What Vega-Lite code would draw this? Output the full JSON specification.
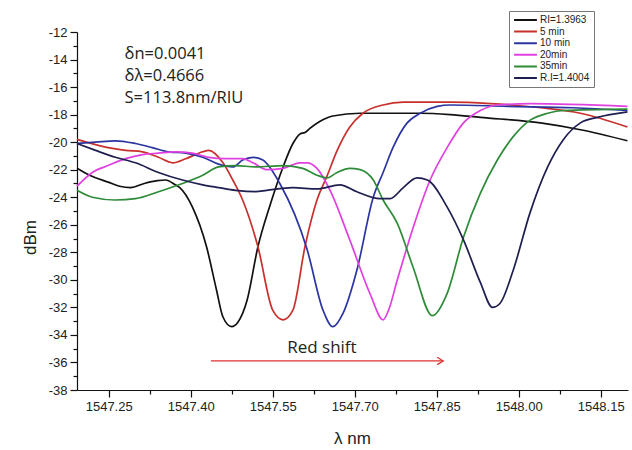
{
  "$schema": "https://vega.github.io/schema/vega-lite/v6.json",
  "width": 551,
  "height": 358,
  "autosize": {"type": "none"},
  "padding": {"left": 77, "top": 32, "right": 4, "bottom": 60},
  "background": "white",
  "config": {"view": {"stroke": null}, "font": "Liberation Sans"},
  "datasets": {
    "spectra": [
      {"series": "RI=1.3963", "wl": 1547.192, "dbm": -21.9},
      {"series": "RI=1.3963", "wl": 1547.215, "dbm": -22.4},
      {"series": "RI=1.3963", "wl": 1547.249, "dbm": -22.9},
      {"series": "RI=1.3963", "wl": 1547.270, "dbm": -23.2},
      {"series": "RI=1.3963", "wl": 1547.290, "dbm": -23.3},
      {"series": "RI=1.3963", "wl": 1547.315, "dbm": -23.0},
      {"series": "RI=1.3963", "wl": 1547.339, "dbm": -22.8},
      {"series": "RI=1.3963", "wl": 1547.354, "dbm": -22.75},
      {"series": "RI=1.3963", "wl": 1547.372, "dbm": -23.1},
      {"series": "RI=1.3963", "wl": 1547.380, "dbm": -23.3},
      {"series": "RI=1.3963", "wl": 1547.403, "dbm": -24.7},
      {"series": "RI=1.3963", "wl": 1547.429, "dbm": -27.6},
      {"series": "RI=1.3963", "wl": 1547.447, "dbm": -30.7},
      {"series": "RI=1.3963", "wl": 1547.459, "dbm": -32.7},
      {"series": "RI=1.3963", "wl": 1547.475, "dbm": -33.4},
      {"series": "RI=1.3963", "wl": 1547.486, "dbm": -33.1},
      {"series": "RI=1.3963", "wl": 1547.503, "dbm": -31.5},
      {"series": "RI=1.3963", "wl": 1547.523, "dbm": -27.6},
      {"series": "RI=1.3963", "wl": 1547.545, "dbm": -24.6},
      {"series": "RI=1.3963", "wl": 1547.569, "dbm": -21.8},
      {"series": "RI=1.3963", "wl": 1547.587, "dbm": -20.1},
      {"series": "RI=1.3963", "wl": 1547.600, "dbm": -19.4},
      {"series": "RI=1.3963", "wl": 1547.609, "dbm": -19.3},
      {"series": "RI=1.3963", "wl": 1547.618, "dbm": -19.0},
      {"series": "RI=1.3963", "wl": 1547.636, "dbm": -18.5},
      {"series": "RI=1.3963", "wl": 1547.660, "dbm": -18.1},
      {"series": "RI=1.3963", "wl": 1547.710, "dbm": -17.9},
      {"series": "RI=1.3963", "wl": 1547.820, "dbm": -17.9},
      {"series": "RI=1.3963", "wl": 1547.875, "dbm": -18.0},
      {"series": "RI=1.3963", "wl": 1547.930, "dbm": -18.2},
      {"series": "RI=1.3963", "wl": 1548.040, "dbm": -18.6},
      {"series": "RI=1.3963", "wl": 1548.113, "dbm": -19.1},
      {"series": "RI=1.3963", "wl": 1548.199, "dbm": -19.9},

      {"series": "5 min", "wl": 1547.192, "dbm": -19.8},
      {"series": "5 min", "wl": 1547.249, "dbm": -20.4},
      {"series": "5 min", "wl": 1547.281, "dbm": -20.6},
      {"series": "5 min", "wl": 1547.312, "dbm": -20.7},
      {"series": "5 min", "wl": 1547.341, "dbm": -21.1},
      {"series": "5 min", "wl": 1547.367, "dbm": -21.5},
      {"series": "5 min", "wl": 1547.391, "dbm": -21.2},
      {"series": "5 min", "wl": 1547.422, "dbm": -20.7},
      {"series": "5 min", "wl": 1547.433, "dbm": -20.6},
      {"series": "5 min", "wl": 1547.459, "dbm": -21.5},
      {"series": "5 min", "wl": 1547.477, "dbm": -22.75},
      {"series": "5 min", "wl": 1547.495, "dbm": -24.2},
      {"series": "5 min", "wl": 1547.523, "dbm": -27.6},
      {"series": "5 min", "wl": 1547.550, "dbm": -32.2},
      {"series": "5 min", "wl": 1547.569, "dbm": -32.9},
      {"series": "5 min", "wl": 1547.587, "dbm": -32.2},
      {"series": "5 min", "wl": 1547.609, "dbm": -27.6},
      {"series": "5 min", "wl": 1547.631, "dbm": -24.2},
      {"series": "5 min", "wl": 1547.649, "dbm": -22.5},
      {"series": "5 min", "wl": 1547.668, "dbm": -20.6},
      {"series": "5 min", "wl": 1547.691, "dbm": -18.9},
      {"series": "5 min", "wl": 1547.715, "dbm": -17.9},
      {"series": "5 min", "wl": 1547.752, "dbm": -17.3},
      {"series": "5 min", "wl": 1547.789, "dbm": -17.1},
      {"series": "5 min", "wl": 1547.875, "dbm": -17.1},
      {"series": "5 min", "wl": 1547.948, "dbm": -17.2},
      {"series": "5 min", "wl": 1548.040, "dbm": -17.5},
      {"series": "5 min", "wl": 1548.113, "dbm": -17.9},
      {"series": "5 min", "wl": 1548.199, "dbm": -18.9},

      {"series": "10 min", "wl": 1547.192, "dbm": -20.1},
      {"series": "10 min", "wl": 1547.226, "dbm": -20.0},
      {"series": "10 min", "wl": 1547.262, "dbm": -19.9},
      {"series": "10 min", "wl": 1547.299, "dbm": -20.1},
      {"series": "10 min", "wl": 1547.330, "dbm": -20.4},
      {"series": "10 min", "wl": 1547.359, "dbm": -20.7},
      {"series": "10 min", "wl": 1547.391, "dbm": -20.8},
      {"series": "10 min", "wl": 1547.422, "dbm": -21.1},
      {"series": "10 min", "wl": 1547.451, "dbm": -21.6},
      {"series": "10 min", "wl": 1547.477, "dbm": -21.8},
      {"series": "10 min", "wl": 1547.495, "dbm": -21.3},
      {"series": "10 min", "wl": 1547.514, "dbm": -21.1},
      {"series": "10 min", "wl": 1547.532, "dbm": -21.3},
      {"series": "10 min", "wl": 1547.563, "dbm": -23.0},
      {"series": "10 min", "wl": 1547.613, "dbm": -27.8},
      {"series": "10 min", "wl": 1547.642, "dbm": -32.2},
      {"series": "10 min", "wl": 1547.660, "dbm": -33.4},
      {"series": "10 min", "wl": 1547.679, "dbm": -32.4},
      {"series": "10 min", "wl": 1547.704, "dbm": -29.3},
      {"series": "10 min", "wl": 1547.734, "dbm": -24.0},
      {"series": "10 min", "wl": 1547.752, "dbm": -22.2},
      {"series": "10 min", "wl": 1547.770, "dbm": -20.4},
      {"series": "10 min", "wl": 1547.796, "dbm": -18.6},
      {"series": "10 min", "wl": 1547.820, "dbm": -17.9},
      {"series": "10 min", "wl": 1547.851, "dbm": -17.4},
      {"series": "10 min", "wl": 1547.875, "dbm": -17.3},
      {"series": "10 min", "wl": 1547.979, "dbm": -17.4},
      {"series": "10 min", "wl": 1548.100, "dbm": -17.5},
      {"series": "10 min", "wl": 1548.199, "dbm": -17.7},

      {"series": "20min", "wl": 1547.192, "dbm": -23.2},
      {"series": "20min", "wl": 1547.220, "dbm": -22.2},
      {"series": "20min", "wl": 1547.249, "dbm": -21.7},
      {"series": "20min", "wl": 1547.281, "dbm": -21.2},
      {"series": "20min", "wl": 1547.312, "dbm": -20.9},
      {"series": "20min", "wl": 1547.341, "dbm": -20.8},
      {"series": "20min", "wl": 1547.372, "dbm": -20.7},
      {"series": "20min", "wl": 1547.403, "dbm": -20.8},
      {"series": "20min", "wl": 1547.433, "dbm": -21.1},
      {"series": "20min", "wl": 1547.464, "dbm": -21.2},
      {"series": "20min", "wl": 1547.495, "dbm": -21.2},
      {"series": "20min", "wl": 1547.514, "dbm": -21.5},
      {"series": "20min", "wl": 1547.539, "dbm": -22.0},
      {"series": "20min", "wl": 1547.569, "dbm": -21.9},
      {"series": "20min", "wl": 1547.600, "dbm": -21.5},
      {"series": "20min", "wl": 1547.613, "dbm": -21.5},
      {"series": "20min", "wl": 1547.631, "dbm": -21.9},
      {"series": "20min", "wl": 1547.655, "dbm": -23.5},
      {"series": "20min", "wl": 1547.691, "dbm": -27.1},
      {"series": "20min", "wl": 1547.728, "dbm": -31.0},
      {"series": "20min", "wl": 1547.752, "dbm": -32.9},
      {"series": "20min", "wl": 1547.762, "dbm": -32.2},
      {"series": "20min", "wl": 1547.778, "dbm": -30.0},
      {"series": "20min", "wl": 1547.807, "dbm": -26.2},
      {"series": "20min", "wl": 1547.838, "dbm": -22.75},
      {"series": "20min", "wl": 1547.869, "dbm": -20.4},
      {"series": "20min", "wl": 1547.899, "dbm": -18.6},
      {"series": "20min", "wl": 1547.930, "dbm": -17.7},
      {"series": "20min", "wl": 1547.961, "dbm": -17.3},
      {"series": "20min", "wl": 1548.021, "dbm": -17.2},
      {"series": "20min", "wl": 1548.199, "dbm": -17.4},

      {"series": "35min", "wl": 1547.192, "dbm": -23.5},
      {"series": "35min", "wl": 1547.220, "dbm": -24.0},
      {"series": "35min", "wl": 1547.262, "dbm": -24.2},
      {"series": "35min", "wl": 1547.299, "dbm": -24.1},
      {"series": "35min", "wl": 1547.341, "dbm": -23.6},
      {"series": "35min", "wl": 1547.385, "dbm": -23.0},
      {"series": "35min", "wl": 1547.422, "dbm": -22.4},
      {"series": "35min", "wl": 1547.451, "dbm": -21.8},
      {"series": "35min", "wl": 1547.482, "dbm": -21.7},
      {"series": "35min", "wl": 1547.519, "dbm": -21.8},
      {"series": "35min", "wl": 1547.569, "dbm": -21.7},
      {"series": "35min", "wl": 1547.605, "dbm": -21.9},
      {"series": "35min", "wl": 1547.631, "dbm": -22.4},
      {"series": "35min", "wl": 1547.649, "dbm": -22.6},
      {"series": "35min", "wl": 1547.668, "dbm": -22.2},
      {"series": "35min", "wl": 1547.691, "dbm": -21.9},
      {"series": "35min", "wl": 1547.710, "dbm": -22.0},
      {"series": "35min", "wl": 1547.734, "dbm": -22.75},
      {"series": "35min", "wl": 1547.752, "dbm": -24.2},
      {"series": "35min", "wl": 1547.778, "dbm": -25.9},
      {"series": "35min", "wl": 1547.807, "dbm": -29.1},
      {"series": "35min", "wl": 1547.842, "dbm": -32.6},
      {"series": "35min", "wl": 1547.869, "dbm": -31.0},
      {"series": "35min", "wl": 1547.899, "dbm": -26.9},
      {"series": "35min", "wl": 1547.930, "dbm": -23.7},
      {"series": "35min", "wl": 1547.961, "dbm": -21.3},
      {"series": "35min", "wl": 1547.990, "dbm": -19.6},
      {"series": "35min", "wl": 1548.021, "dbm": -18.4},
      {"series": "35min", "wl": 1548.053, "dbm": -17.9},
      {"series": "35min", "wl": 1548.082, "dbm": -17.7},
      {"series": "35min", "wl": 1548.199, "dbm": -17.6},

      {"series": "R.I=1.4004", "wl": 1547.192, "dbm": -20.1},
      {"series": "R.I=1.4004", "wl": 1547.226, "dbm": -20.6},
      {"series": "R.I=1.4004", "wl": 1547.262, "dbm": -21.1},
      {"series": "R.I=1.4004", "wl": 1547.299, "dbm": -21.5},
      {"series": "R.I=1.4004", "wl": 1547.341, "dbm": -22.2},
      {"series": "R.I=1.4004", "wl": 1547.385, "dbm": -22.75},
      {"series": "R.I=1.4004", "wl": 1547.422, "dbm": -23.1},
      {"series": "R.I=1.4004", "wl": 1547.451, "dbm": -23.3},
      {"series": "R.I=1.4004", "wl": 1547.482, "dbm": -23.5},
      {"series": "R.I=1.4004", "wl": 1547.519, "dbm": -23.6},
      {"series": "R.I=1.4004", "wl": 1547.539, "dbm": -23.5},
      {"series": "R.I=1.4004", "wl": 1547.587, "dbm": -23.3},
      {"series": "R.I=1.4004", "wl": 1547.631, "dbm": -23.4},
      {"series": "R.I=1.4004", "wl": 1547.673, "dbm": -23.1},
      {"series": "R.I=1.4004", "wl": 1547.704, "dbm": -23.6},
      {"series": "R.I=1.4004", "wl": 1547.746, "dbm": -24.1},
      {"series": "R.I=1.4004", "wl": 1547.765, "dbm": -24.1},
      {"series": "R.I=1.4004", "wl": 1547.789, "dbm": -23.3},
      {"series": "R.I=1.4004", "wl": 1547.814, "dbm": -22.6},
      {"series": "R.I=1.4004", "wl": 1547.833, "dbm": -22.75},
      {"series": "R.I=1.4004", "wl": 1547.869, "dbm": -24.7},
      {"series": "R.I=1.4004", "wl": 1547.899, "dbm": -27.1},
      {"series": "R.I=1.4004", "wl": 1547.930, "dbm": -30.2},
      {"series": "R.I=1.4004", "wl": 1547.952, "dbm": -32.0},
      {"series": "R.I=1.4004", "wl": 1547.966, "dbm": -31.7},
      {"series": "R.I=1.4004", "wl": 1547.990, "dbm": -29.3},
      {"series": "R.I=1.4004", "wl": 1548.021, "dbm": -25.1},
      {"series": "R.I=1.4004", "wl": 1548.053, "dbm": -21.8},
      {"series": "R.I=1.4004", "wl": 1548.082, "dbm": -19.8},
      {"series": "R.I=1.4004", "wl": 1548.113, "dbm": -18.6},
      {"series": "R.I=1.4004", "wl": 1548.144, "dbm": -18.2},
      {"series": "R.I=1.4004", "wl": 1548.199, "dbm": -17.8}
    ],
    "notes": [
      {"wl": 1547.279, "dbm": -13.6, "label": "δn=0.0041"},
      {"wl": 1547.279, "dbm": -15.2, "label": "δλ=0.4666"},
      {"wl": 1547.279, "dbm": -16.8, "label": "S=113.8nm/RIU"}
    ],
    "shift": [
      {"wl": 1547.437, "wl2": 1547.862, "dbm": -35.89, "tx": 1547.640, "ty": -34.95, "label": "Red shift"}
    ]
  },
  "resolve": {"axis": {"x": "independent", "y": "independent"}},
  "layer": [
    {
      "data": {"name": "spectra"},
      "mark": {"type": "line", "strokeWidth": 1.7, "interpolate": "monotone"},
      "encoding": {
        "x": {
          "field": "wl", "type": "quantitative",
          "scale": {"domain": [1547.192, 1548.2], "nice": false, "zero": false},
          "axis": {
            "orient": "bottom",
            "title": "λ nm",
            "values": [1547.25, 1547.4, 1547.55, 1547.7, 1547.85, 1548.0, 1548.15],
            "format": ".2f",
            "tickSize": 7,
            "grid": false,
            "domainColor": "#111", "tickColor": "#111", "domainWidth": 1.2, "tickWidth": 1.2,
            "labelFont": "Liberation Sans", "labelFontSize": 13, "labelColor": "#222", "labelPadding": 3,
            "labelFlush": false, "labelOverlap": false, "labelBound": false,
            "titleFont": "Liberation Sans", "titleFontSize": 17, "titleFontWeight": "normal", "titleColor": "#222",
            "titleX": 275, "titleY": 48, "titleBaseline": "middle"
          }
        },
        "y": {
          "field": "dbm", "type": "quantitative",
          "scale": {"domain": [-38, -12], "nice": false, "zero": false},
          "axis": {
            "orient": "left",
            "title": "dBm",
            "values": [-38, -36, -34, -32, -30, -28, -26, -24, -22, -20, -18, -16, -14, -12],
            "labelExpr": "'' + datum.value",
            "tickSize": 7,
            "grid": false,
            "domainColor": "#111", "tickColor": "#111", "domainWidth": 1.2, "tickWidth": 1.2,
            "labelFont": "Liberation Sans", "labelFontSize": 13, "labelColor": "#222", "labelPadding": 3,
            "labelFlush": false, "labelOverlap": false, "labelBound": false,
            "titleFont": "Liberation Sans", "titleFontSize": 17, "titleFontWeight": "normal", "titleColor": "#222",
            "titleX": -47, "titleY": 205, "titleAngle": -90, "titleAlign": "center", "titleBaseline": "middle"
          }
        },
        "color": {
          "field": "series", "type": "nominal",
          "scale": {
            "domain": ["RI=1.3963", "5 min", "10 min", "20min", "35min", "R.I=1.4004"],
            "range": ["#111111", "#c8302c", "#2b35a0", "#e040e0", "#2e8b37", "#1e1e50"]
          },
          "legend": {
            "orient": "none", "legendX": 432, "legendY": -21, "title": null,
            "strokeColor": "#777", "fillColor": "white", "padding": 4,
            "labelFont": "Liberation Sans", "labelFontSize": 10, "labelColor": "#222", "labelOffset": 2,
            "symbolType": "stroke", "symbolSize": 520, "symbolStrokeWidth": 2,
            "clipHeight": 10, "rowPadding": 1.6
          }
        }
      }
    },
    {
      "data": {"name": "shift"},
      "mark": {"type": "point", "opacity": 0},
      "encoding": {
        "x": {
          "field": "wl", "type": "quantitative",
          "axis": {
            "orient": "bottom", "title": null, "labels": false, "domain": false, "grid": false,
            "values": [1547.325, 1547.475, 1547.625, 1547.775, 1547.925, 1548.075],
            "tickSize": 4, "tickColor": "#111", "tickWidth": 1.2
          }
        },
        "y": {
          "field": "dbm", "type": "quantitative",
          "axis": {
            "orient": "left", "title": null, "labels": false, "domain": false, "grid": false,
            "values": [-37, -35, -33, -31, -29, -27, -25, -23, -21, -19, -17, -15, -13],
            "tickSize": 4, "tickColor": "#111", "tickWidth": 1.2
          }
        }
      }
    },
    {
      "data": {"name": "notes"},
      "mark": {"type": "text", "align": "left", "baseline": "middle", "font": "Open Sans", "fontSize": 16.5, "letterSpacing": 0.8, "color": "#222"},
      "encoding": {
        "x": {"field": "wl", "type": "quantitative", "axis": null},
        "y": {"field": "dbm", "type": "quantitative", "axis": null},
        "text": {"field": "label"}
      }
    },
    {
      "data": {"name": "shift"},
      "mark": {"type": "rule", "color": "#e03030", "strokeWidth": 1.2},
      "encoding": {
        "x": {"field": "wl", "type": "quantitative", "axis": null},
        "x2": {"field": "wl2"},
        "y": {"field": "dbm", "type": "quantitative", "axis": null}
      }
    },
    {
      "data": {"name": "shift"},
      "mark": {"type": "point", "shape": "M-1,-0.6L0,0L-1,0.6", "filled": false, "stroke": "#e03030", "strokeWidth": 1.2, "size": 150, "opacity": 1},
      "encoding": {
        "x": {"field": "wl2", "type": "quantitative", "axis": null},
        "y": {"field": "dbm", "type": "quantitative", "axis": null}
      }
    },
    {
      "data": {"name": "shift"},
      "mark": {"type": "text", "align": "center", "baseline": "middle", "font": "Open Sans", "fontSize": 17, "color": "#222"},
      "encoding": {
        "x": {"field": "tx", "type": "quantitative", "axis": null},
        "y": {"field": "ty", "type": "quantitative", "axis": null},
        "text": {"field": "label"}
      }
    }
  ]
}
